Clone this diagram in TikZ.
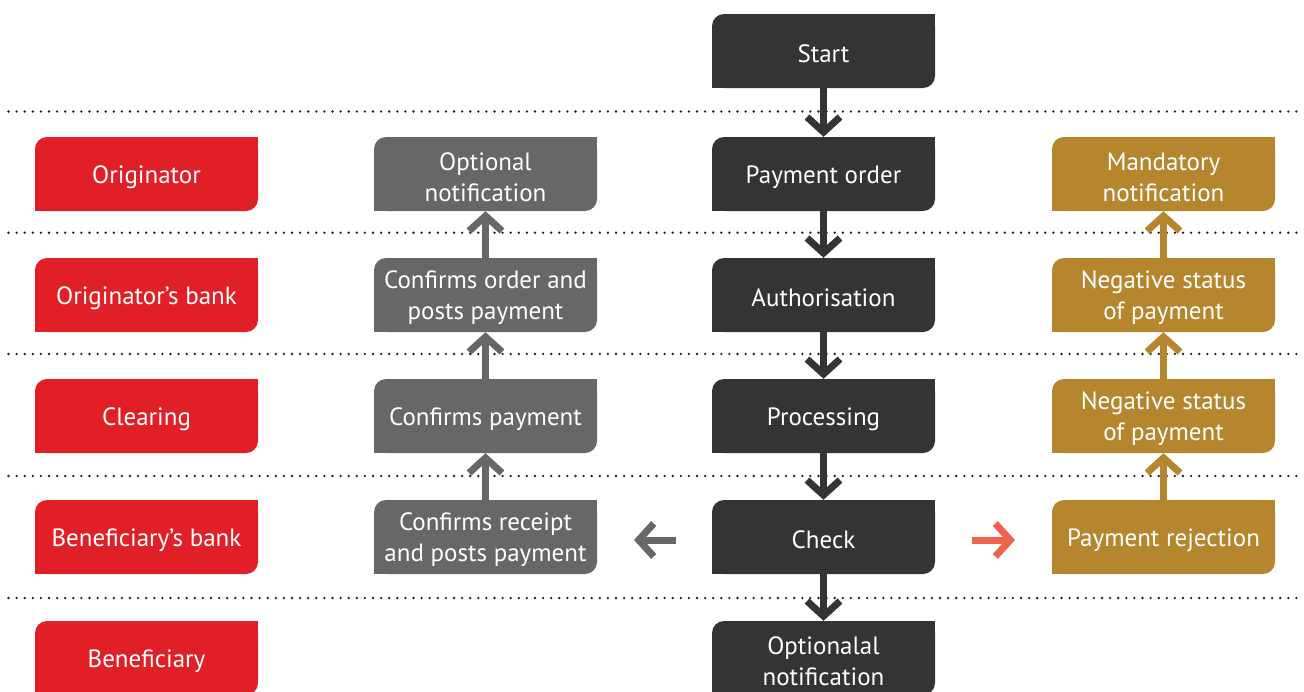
\documentclass[tikz,border=0pt]{standalone}
\usepackage{fontspec}
\setmainfont{PT Sans}
\usetikzlibrary{arrows.meta}
\definecolor{cred}{RGB}{225,31,39}
\definecolor{cdark}{RGB}{52,52,52}
\definecolor{cgray}{RGB}{103,103,103}
\definecolor{cgold}{RGB}{182,134,46}
\definecolor{ccoral}{RGB}{240,99,79}
\definecolor{cdot}{RGB}{30,30,30}
\tikzset{
  box/.style={minimum width=223pt, minimum height=74pt, inner sep=0pt, rounded corners=12pt},
  boxtext/.style={inner sep=0pt, text=white, align=center, font=\fontsize{25}{31}\selectfont},
  redbox/.style={box, fill=cred},
  darkbox/.style={box, fill=cdark},
  graybox/.style={box, fill=cgray},
  goldbox/.style={box, fill=cgold},
  flow/.style={line width=7pt, -{Straight Barb[length=15pt,width=33pt,sharp]}},
  sepline/.style={line width=2.6pt, line cap=round, dash pattern=on 0pt off 8.1pt, color=cdot}
}
% name, colour, x, y, text
\newcommand\bx[5]{%
  \node[box, fill=#2] (#1) at (#3,#4) {};
  \fill[#2] (#1.north east) rectangle ++(-13,13);
  \fill[#2] (#1.south west) rectangle ++(13,-13);
  \node[boxtext] (#1-t) at ([yshift=-3pt]#1.center) {#5};}
\begin{document}
\begin{tikzpicture}[x=1pt,y=-1pt]
\clip (0,0) rectangle (1304,691);
\fill[white] (0,0) rectangle (1304,691);
\foreach \yy in {111.5,232.7,354,476,598} \draw[sepline] (8.5,\yy) -- (1304,\yy);

% left column
\bx{l1}{cred}{146.5}{174}{Originator}
\bx{l2}{cred}{146.5}{295}{Originator’s bank}
\bx{l3}{cred}{146.5}{416}{Clearing}
\bx{l4}{cred}{146.5}{537}{Beneficiary’s bank}
\bx{l5}{cred}{146.5}{658}{Beneficiary}

% gray column
\bx{g1}{cgray}{485.5}{174}{Optional\\notification}
\bx{g2}{cgray}{485.5}{295}{Confirms order and\\posts payment}
\bx{g3}{cgray}{485.5}{416}{Confirms payment}
\bx{g4}{cgray}{485.5}{537}{Confirms receipt\\and posts payment}

% center column
\bx{c0}{cdark}{823.5}{51}{Start}
\bx{c1}{cdark}{823.5}{174}{Payment order}
\bx{c2}{cdark}{823.5}{295}{Authorisation}
\bx{c3}{cdark}{823.5}{416}{Processing}
\bx{c4}{cdark}{823.5}{537}{Check}
\bx{c5}{cdark}{823.5}{658}{Optionalal\\notification}

% gold column
\bx{r1}{cgold}{1163.5}{174}{Mandatory\\notification}
\bx{r2}{cgold}{1163.5}{295}{Negative status\\of payment}
\bx{r3}{cgold}{1163.5}{416}{Negative status\\of payment}
\bx{r4}{cgold}{1163.5}{537}{Payment rejection}

% arrows
\draw[flow, cdark] (c0.south) -- (c1.north);
\draw[flow, cdark] (c1.south) -- (c2.north);
\draw[flow, cdark] (c2.south) -- (c3.north);
\draw[flow, cdark] (c3.south) -- (c4.north);
\draw[flow, cdark] (c4.south) -- (c5.north);

\draw[flow, cgray] (g4.north) -- (g3.south);
\draw[flow, cgray] (g3.north) -- (g2.south);
\draw[flow, cgray] (g2.north) -- (g1.south);

\draw[flow, cgold] (r4.north) -- (r3.south);
\draw[flow, cgold] (r3.north) -- (r2.south);
\draw[flow, cgold] (r2.north) -- (r1.south);

\coordinate (la) at (676,540);
\coordinate (lb) at (634,540);
\coordinate (ra) at (972,540);
\coordinate (rb) at (1015,540);
\draw[flow, cgray] (la) -- (lb);
\draw[flow, ccoral] (ra) -- (rb);
\end{tikzpicture}
\end{document}
